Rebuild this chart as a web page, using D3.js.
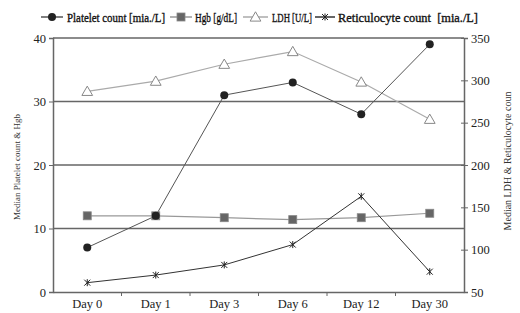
<!DOCTYPE html>
<html>
<head>
<meta charset="utf-8">
<script src="https://cdn.jsdelivr.net/npm/d3@7"></script>
<style>
  body { margin: 0; background: #fff; }
  svg { display: block; font-family: "Liberation Serif", "Times New Roman", serif; }
</style>
</head>
<body>
<svg id="chart" width="520" height="313"></svg>
<script>
// Median values per day.
var days = ["Day 0", "Day 1", "Day 3", "Day 6", "Day 12", "Day 30"];
var platelet = [7, 12, 31, 33, 28, 39];          // left axis
var hgb = [12, 12, 11.7, 11.4, 11.7, 12.4];       // left axis
var ldh = [287, 299, 319, 334, 298, 254];         // right axis
var retic = [61, 70, 82, 106, 163, 74];           // right axis
var leftTicks = [0, 10, 20, 30, 40];
var rightTicks = [50, 100, 150, 200, 250, 300, 350];

var svg = d3.select("#chart");
var plotLeft = 53, plotRight = 464, plotTop = 38, plotBottom = 292;

var x = d3.scaleBand().domain(days).range([plotLeft, plotRight]);
var yL = d3.scaleLinear().domain([0, 40]).range([plotBottom, plotTop]);
var yR = d3.scaleLinear().domain([50, 350]).range([plotBottom, plotTop]);
var cx = function (d, i) { return x(days[i]) + x.bandwidth() / 2; };

// Gridlines
svg.append("g").selectAll("line").data(leftTicks.slice(1)).join("line")
    .attr("x1", plotLeft).attr("x2", plotRight)
    .attr("y1", function (d) { return yL(d); }).attr("y2", function (d) { return yL(d); })
    .attr("stroke", "#666").attr("stroke-width", 1.5);

// Left axis
var gL = svg.append("g").attr("transform", "translate(" + plotLeft + ",0)")
    .call(d3.axisLeft(yL).tickValues(leftTicks).tickSize(4).tickPadding(3));
// Right axis
var gR = svg.append("g").attr("transform", "translate(" + plotRight + ",0)")
    .call(d3.axisRight(yR).tickValues(rightTicks).tickSize(4).tickPadding(3));
gR.selectAll(".tick line").attr("x1", -3);
// Bottom axis with ticks at category boundaries
var gB = svg.append("g").attr("transform", "translate(0," + plotBottom + ")")
    .call(d3.axisBottom(x).tickSize(0).tickPadding(7));
gB.selectAll(".bound").data(days.slice(1)).join("line").attr("class", "bound")
    .attr("x1", function (d) { return x(d); }).attr("x2", function (d) { return x(d); })
    .attr("y1", 0).attr("y2", 4).attr("stroke", "#666");

[gL, gR, gB].forEach(function (g) {
    g.select(".domain").attr("stroke", "#666").attr("stroke-width", 1.5);
    g.selectAll(".tick line").attr("stroke", "#666");
    g.selectAll("text").attr("font-family", "Liberation Serif").attr("font-size", 12.5).attr("fill", "#222");
});

// Axis titles
svg.append("text").attr("transform", "translate(20,167) rotate(-90)")
    .attr("text-anchor", "middle").attr("font-size", 9).attr("fill", "#333")
    .text("Median Platelet count & Hgb");
svg.append("text").attr("transform", "translate(511,161) rotate(-90)")
    .attr("text-anchor", "middle").attr("font-size", 10).attr("fill", "#333")
    .text("Median LDH & Reticulocyte coun");

var line = function (scale) {
    return d3.line().x(cx).y(function (d) { return scale(d); });
};

// Series lines
svg.append("path").datum(ldh).attr("d", line(yR)).attr("fill", "none").attr("stroke", "#aaa").attr("stroke-width", 1.2);
svg.append("path").datum(hgb).attr("d", line(yL)).attr("fill", "none").attr("stroke", "#999").attr("stroke-width", 1.2);
svg.append("path").datum(retic).attr("d", line(yR)).attr("fill", "none").attr("stroke", "#333").attr("stroke-width", 1);
svg.append("path").datum(platelet).attr("d", line(yL)).attr("fill", "none").attr("stroke", "#555").attr("stroke-width", 1);

// Markers
function triangle(g, px, py) {
    g.append("path").attr("d", d3.symbol(d3.symbolTriangle, 50)())
        .attr("transform", "translate(" + px + "," + (py + 1) + ")")
        .attr("fill", "#fff").attr("stroke", "#888").attr("stroke-width", 1);
}
function square(g, px, py) {
    g.append("rect").attr("x", px - 4).attr("y", py - 4).attr("width", 8).attr("height", 8)
        .attr("fill", "#666").attr("stroke", "#888").attr("stroke-width", 0.8);
}
function dot(g, px, py) {
    g.append("circle").attr("cx", px).attr("cy", py).attr("r", 4).attr("fill", "#222");
}
function star(g, px, py) {
    g.append("path").attr("d", "M-3,-3L3,3M-3,3L3,-3M0,-3.5L0,3.5")
        .attr("transform", "translate(" + px + "," + py + ")")
        .attr("stroke", "#222").attr("stroke-width", 1);
}

var marks = svg.append("g");
ldh.forEach(function (d, i) { triangle(marks, cx(d, i), yR(d)); });
hgb.forEach(function (d, i) { square(marks, cx(d, i), yL(d)); });
retic.forEach(function (d, i) { star(marks, cx(d, i), yR(d)); });
platelet.forEach(function (d, i) { dot(marks, cx(d, i), yL(d)); });

// Legend
var legendItems = [
    { label: "Platelet count [mia./L]", x0: 41, x1: 63, tx: 67, stroke: "#555", mark: dot },
    { label: "Hgb [g/dL]", x0: 170, x1: 192, tx: 195, stroke: "#999", mark: square },
    { label: "LDH [U/L]", x0: 243, x1: 268, tx: 272, stroke: "#aaa", mark: triangle },
    { label: "Reticulocyte count  [mia./L]", x0: 315, x1: 335, tx: 338, stroke: "#333", mark: star }
];
var legendWidths = [98, 42, 40, 140];
var lg = svg.append("g");
legendItems.forEach(function (it, i) {
    lg.append("line").attr("x1", it.x0).attr("x2", it.x1).attr("y1", 17).attr("y2", 17)
        .attr("stroke", it.stroke).attr("stroke-width", 1.5);
    it.mark(lg, (it.x0 + it.x1) / 2, 17);
    lg.append("text").attr("x", it.tx).attr("y", 21.5).attr("font-size", 13)
        .attr("fill", "#111").attr("stroke", "#111").attr("stroke-width", 0.35)
        .attr("textLength", legendWidths[i]).attr("lengthAdjust", "spacingAndGlyphs")
        .style("white-space", "pre").text(it.label);
});
</script>
</body>
</html>
